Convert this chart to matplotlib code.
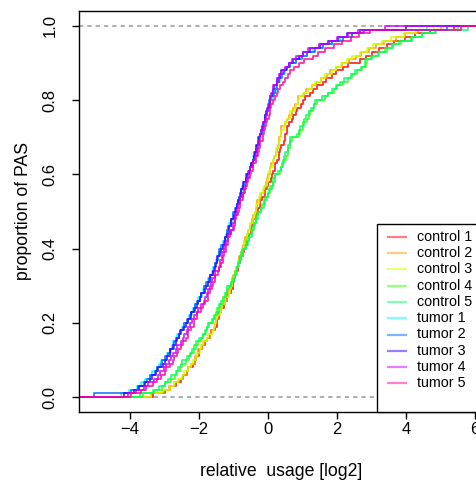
import numpy as np
import matplotlib
matplotlib.use("Agg")
import matplotlib.pyplot as plt
from matplotlib.patches import Rectangle

plt.rcParams["font.family"] = ["Liberation Sans", "DejaVu Sans"]
plt.rcParams["axes.unicode_minus"] = True

# ---- data: relative usage (log2) of PAS per sample ----
labels = ["control 1", "control 2", "control 3", "control 4", "control 5",
          "tumor 1", "tumor 2", "tumor 3", "tumor 4", "tumor 5"]
colors = ["#FF0000", "#FF9900", "#CCFF00", "#33FF00", "#00FF66",
          "#00FFFF", "#0066FF", "#3300FF", "#CC00FF", "#FF0099"]

control_1 = [-3.34, -2.99, -2.84, -2.68, -2.53, -2.46, -2.36, -2.31, -2.17, -2.11,
             -2.09, -2.00, -1.99, -1.91, -1.83, -1.77, -1.68, -1.64, -1.53, -1.49,
             -1.49, -1.42, -1.42, -1.35, -1.28, -1.25, -1.19, -1.17, -1.06, -1.03,
             -1.03, -0.97, -0.98, -0.92, -0.87, -0.86, -0.82, -0.81, -0.72, -0.69,
             -0.67, -0.61, -0.62, -0.55, -0.49, -0.48, -0.44, -0.43, -0.34, -0.31,
             -0.29, -0.23, -0.24, -0.17, -0.10, -0.08, -0.02, -0.01, 0.09, 0.12,
             0.14, 0.20, 0.19, 0.25, 0.31, 0.31, 0.36, 0.37, 0.46, 0.49,
             0.48, 0.54, 0.54, 0.62, 0.70, 0.73, 0.80, 0.84, 0.95, 1.01,
             1.07, 1.22, 1.29, 1.43, 1.58, 1.69, 1.85, 1.97, 2.17, 2.31,
             2.66, 2.85, 3.00, 3.23, 3.45, 3.64, 3.97, 4.25, 4.69, 5.40]
control_2 = [-3.39, -3.03, -2.88, -2.70, -2.58, -2.46, -2.36, -2.33, -2.23, -2.13,
             -2.13, -2.03, -2.02, -1.92, -1.87, -1.76, -1.67, -1.65, -1.58, -1.50,
             -1.54, -1.46, -1.46, -1.37, -1.33, -1.25, -1.19, -1.19, -1.12, -1.05,
             -1.09, -1.02, -1.03, -0.95, -0.93, -0.87, -0.83, -0.84, -0.79, -0.72,
             -0.75, -0.68, -0.69, -0.60, -0.57, -0.51, -0.47, -0.48, -0.43, -0.36,
             -0.39, -0.32, -0.33, -0.24, -0.20, -0.13, -0.07, -0.08, -0.02, 0.05,
             0.01, 0.08, 0.07, 0.15, 0.18, 0.23, 0.28, 0.27, 0.32, 0.39,
             0.32, 0.39, 0.39, 0.49, 0.54, 0.62, 0.69, 0.71, 0.78, 0.88,
             0.87, 1.03, 1.10, 1.26, 1.38, 1.54, 1.70, 1.80, 1.96, 2.14,
             2.34, 2.54, 2.69, 2.94, 3.13, 3.37, 3.70, 3.96, 4.36, 5.00]
control_3 = [-3.38, -3.08, -2.84, -2.73, -2.62, -2.49, -2.44, -2.31, -2.24, -2.18,
             -2.10, -2.06, -1.96, -1.93, -1.89, -1.77, -1.73, -1.61, -1.57, -1.53,
             -1.50, -1.48, -1.39, -1.37, -1.34, -1.25, -1.24, -1.14, -1.10, -1.07,
             -1.04, -1.03, -0.95, -0.94, -0.93, -0.86, -0.87, -0.78, -0.76, -0.73,
             -0.71, -0.70, -0.62, -0.60, -0.58, -0.51, -0.52, -0.43, -0.41, -0.38,
             -0.36, -0.35, -0.27, -0.25, -0.22, -0.14, -0.13, -0.04, -0.01, 0.02,
             0.04, 0.05, 0.13, 0.14, 0.16, 0.22, 0.22, 0.31, 0.33, 0.36,
             0.37, 0.38, 0.47, 0.50, 0.54, 0.63, 0.65, 0.77, 0.81, 0.87,
             0.91, 1.01, 1.17, 1.26, 1.37, 1.54, 1.65, 1.85, 1.98, 2.12,
             2.30, 2.44, 2.68, 2.86, 3.04, 3.29, 3.57, 3.93, 4.30, 4.80]
control_4 = [-3.62, -3.31, -3.08, -2.98, -2.80, -2.69, -2.64, -2.54, -2.48, -2.39,
             -2.30, -2.25, -2.16, -2.14, -2.03, -1.93, -1.89, -1.80, -1.77, -1.70,
             -1.60, -1.57, -1.49, -1.48, -1.38, -1.31, -1.30, -1.23, -1.20, -1.14,
             -1.06, -1.04, -0.97, -0.97, -0.89, -0.84, -0.85, -0.79, -0.78, -0.72,
             -0.65, -0.63, -0.56, -0.55, -0.46, -0.41, -0.42, -0.36, -0.35, -0.29,
             -0.20, -0.18, -0.11, -0.10, 0.00, 0.06, 0.07, 0.13, 0.15, 0.21,
             0.35, 0.37, 0.44, 0.44, 0.53, 0.57, 0.57, 0.63, 0.64, 0.70,
             0.90, 0.92, 1.00, 1.02, 1.13, 1.20, 1.22, 1.31, 1.34, 1.43,
             1.64, 1.75, 1.90, 1.98, 2.16, 2.31, 2.42, 2.59, 2.71, 2.88,
             2.83, 2.98, 3.21, 3.38, 3.63, 3.86, 4.14, 4.47, 4.83, 5.50]
control_5 = [-3.70, -3.34, -3.15, -2.98, -2.89, -2.80, -2.67, -2.61, -2.51, -2.48,
             -2.34, -2.24, -2.19, -2.10, -2.08, -2.00, -1.88, -1.83, -1.76, -1.75,
             -1.63, -1.55, -1.51, -1.43, -1.42, -1.37, -1.28, -1.25, -1.18, -1.18,
             -1.06, -0.99, -0.96, -0.89, -0.90, -0.87, -0.80, -0.78, -0.73, -0.73,
             -0.65, -0.58, -0.55, -0.47, -0.47, -0.44, -0.37, -0.35, -0.30, -0.30,
             -0.20, -0.13, -0.10, -0.02, -0.01, 0.03, 0.12, 0.14, 0.20, 0.20,
             0.30, 0.37, 0.40, 0.47, 0.47, 0.49, 0.57, 0.59, 0.64, 0.64,
             0.83, 0.90, 0.94, 1.03, 1.05, 1.10, 1.20, 1.25, 1.32, 1.35,
             1.57, 1.73, 1.84, 1.99, 2.08, 2.21, 2.40, 2.53, 2.69, 2.80,
             2.81, 3.01, 3.20, 3.44, 3.60, 3.81, 4.17, 4.46, 4.86, 5.80]
tumor_1 = [-4.27, -4.03, -3.79, -3.67, -3.56, -3.43, -3.37, -3.23, -3.16, -3.10,
           -2.96, -2.93, -2.82, -2.79, -2.75, -2.66, -2.64, -2.53, -2.49, -2.44,
           -2.33, -2.30, -2.20, -2.17, -2.13, -2.04, -2.02, -1.92, -1.89, -1.85,
           -1.75, -1.73, -1.64, -1.62, -1.59, -1.52, -1.53, -1.44, -1.43, -1.40,
           -1.31, -1.30, -1.22, -1.21, -1.19, -1.12, -1.12, -1.03, -1.02, -0.99,
           -0.92, -0.91, -0.84, -0.83, -0.82, -0.75, -0.76, -0.67, -0.65, -0.62,
           -0.54, -0.53, -0.45, -0.44, -0.43, -0.36, -0.37, -0.29, -0.28, -0.26,
           -0.18, -0.18, -0.11, -0.11, -0.10, -0.04, -0.05, 0.04, 0.05, 0.07,
           0.13, 0.14, 0.22, 0.23, 0.26, 0.34, 0.36, 0.48, 0.55, 0.65,
           0.81, 0.93, 1.14, 1.29, 1.55, 1.85, 2.08, 2.43, 2.74, 4.60]
tumor_2 = [-5.05, -3.97, -3.78, -3.60, -3.51, -3.42, -3.28, -3.21, -3.11, -3.08,
           -2.98, -2.89, -2.83, -2.74, -2.72, -2.67, -2.57, -2.53, -2.46, -2.44,
           -2.36, -2.27, -2.22, -2.13, -2.11, -2.06, -1.96, -1.93, -1.87, -1.86,
           -1.79, -1.71, -1.67, -1.59, -1.58, -1.55, -1.48, -1.46, -1.42, -1.42,
           -1.36, -1.29, -1.26, -1.19, -1.19, -1.16, -1.08, -1.06, -1.02, -1.02,
           -0.97, -0.90, -0.88, -0.81, -0.82, -0.79, -0.72, -0.70, -0.65, -0.65,
           -0.59, -0.52, -0.49, -0.42, -0.43, -0.40, -0.33, -0.32, -0.28, -0.29,
           -0.24, -0.18, -0.16, -0.10, -0.11, -0.09, -0.02, 0.00, 0.04, 0.03,
           0.09, 0.16, 0.19, 0.26, 0.27, 0.31, 0.41, 0.46, 0.56, 0.63,
           0.80, 0.98, 1.14, 1.35, 1.59, 1.85, 2.16, 2.44, 2.78, 5.20]
tumor_3 = [-4.19, -3.90, -3.75, -3.58, -3.43, -3.36, -3.25, -3.19, -3.05, -2.99,
           -2.93, -2.85, -2.83, -2.75, -2.67, -2.64, -2.57, -2.54, -2.43, -2.38,
           -2.31, -2.23, -2.22, -2.14, -2.06, -2.03, -1.96, -1.94, -1.84, -1.80,
           -1.74, -1.67, -1.67, -1.60, -1.53, -1.52, -1.48, -1.47, -1.39, -1.36,
           -1.31, -1.25, -1.26, -1.20, -1.14, -1.13, -1.08, -1.07, -0.99, -0.96,
           -0.93, -0.87, -0.89, -0.83, -0.78, -0.77, -0.73, -0.72, -0.63, -0.60,
           -0.56, -0.50, -0.51, -0.45, -0.40, -0.39, -0.35, -0.35, -0.27, -0.25,
           -0.22, -0.17, -0.19, -0.14, -0.09, -0.09, -0.05, -0.04, 0.04, 0.06,
           0.07, 0.13, 0.12, 0.18, 0.25, 0.27, 0.34, 0.38, 0.52, 0.62,
           0.72, 0.89, 1.01, 1.21, 1.51, 1.75, 2.03, 2.30, 2.68, 4.00]
tumor_4 = [-4.07, -3.82, -3.59, -3.48, -3.30, -3.19, -3.13, -3.02, -2.96, -2.87,
           -2.80, -2.76, -2.66, -2.64, -2.53, -2.46, -2.44, -2.36, -2.33, -2.25,
           -2.19, -2.15, -2.06, -2.04, -1.93, -1.86, -1.84, -1.77, -1.75, -1.68,
           -1.65, -1.62, -1.54, -1.53, -1.43, -1.38, -1.39, -1.33, -1.33, -1.27,
           -1.25, -1.23, -1.16, -1.16, -1.07, -1.02, -1.02, -0.96, -0.96, -0.90,
           -0.89, -0.87, -0.81, -0.81, -0.73, -0.68, -0.69, -0.63, -0.62, -0.56,
           -0.54, -0.52, -0.45, -0.45, -0.37, -0.32, -0.33, -0.28, -0.28, -0.23,
           -0.22, -0.21, -0.15, -0.16, -0.08, -0.04, -0.05, 0.01, 0.01, 0.06,
           0.06, 0.08, 0.15, 0.15, 0.25, 0.31, 0.33, 0.42, 0.48, 0.61,
           0.69, 0.82, 1.02, 1.16, 1.49, 1.77, 2.00, 2.32, 2.62, 3.40]
tumor_5 = [-3.98, -3.68, -3.53, -3.34, -3.22, -3.10, -2.99, -2.95, -2.85, -2.75,
           -2.73, -2.64, -2.62, -2.52, -2.47, -2.39, -2.32, -2.31, -2.24, -2.15,
           -2.15, -2.06, -2.05, -1.95, -1.90, -1.82, -1.75, -1.75, -1.69, -1.61,
           -1.62, -1.54, -1.54, -1.45, -1.41, -1.35, -1.31, -1.32, -1.28, -1.21,
           -1.23, -1.16, -1.17, -1.09, -1.06, -1.00, -0.95, -0.96, -0.92, -0.85,
           -0.87, -0.80, -0.82, -0.74, -0.72, -0.66, -0.62, -0.63, -0.58, -0.51,
           -0.50, -0.43, -0.44, -0.36, -0.34, -0.28, -0.24, -0.26, -0.22, -0.16,
           -0.16, -0.10, -0.12, -0.05, -0.03, 0.02, 0.06, 0.05, 0.09, 0.15,
           0.20, 0.27, 0.28, 0.36, 0.42, 0.50, 0.58, 0.64, 0.76, 0.90,
           1.05, 1.30, 1.45, 1.65, 1.90, 2.15, 2.40, 2.65, 2.95, 5.60]

samples = [control_1, control_2, control_3, control_4, control_5,
           tumor_1, tumor_2, tumor_3, tumor_4, tumor_5]

x_ticks = [-4, -2, 0, 2, 4, 6]
y_ticks = [0.0, 0.2, 0.4, 0.6, 0.8, 1.0]
y_tick_labels = ["0.0", "0.2", "0.4", "0.6", "0.8", "1.0"]

# ---- figure ----
W, H = 477, 482
fig = plt.figure(figsize=(W / 100, H / 100), dpi=100)
ax_l, ax_r, ax_t, ax_b = 79, 484, 11, 412
ax = fig.add_axes([ax_l / W, (H - ax_b) / H, (ax_r - ax_l) / W, (ax_b - ax_t) / H])
xlim = (-5.48, 6.26)
ylim = (-0.04, 1.04)
ax.set_xlim(*xlim)
ax.set_ylim(*ylim)

# reference lines at 0 and 1
for h in (0.0, 1.0):
    ax.axhline(h, color="#A8A8A8", lw=1.3, ls=(0, (2.4, 2.2)), zorder=1)

# empirical cumulative distribution of each sample
for vals, col in zip(samples, colors):
    xs = np.sort(np.asarray(vals, dtype=float))
    n = len(xs)
    xx = np.concatenate([[xlim[0]], xs, [xlim[1]]])
    yy = np.concatenate([[0.0], np.arange(1, n + 1) / n, [1.0]])
    ax.step(xx, yy, where="post", color=col, alpha=0.85, lw=1.25, zorder=2)

# axes styling
for sp in ax.spines.values():
    sp.set_linewidth(1.0)
    sp.set_color("black")
ax.set_xticks(x_ticks)
ax.set_yticks(y_ticks)
ax.set_yticklabels(y_tick_labels, rotation=90, va="center")
ax.tick_params(axis="both", direction="out", length=5, width=1.0,
               labelsize=12, colors="black")
ax.tick_params(axis="x", pad=2)
ax.tick_params(axis="y", pad=10.5)

ax.set_xlabel("relative  usage [log2]", fontsize=12.7)
ax.xaxis.label.set_verticalalignment("center")
ax.xaxis.set_label_coords(0.5, (ax_b - 471) / (ax_b - ax_t))
ax.set_ylabel("proportion of PAS", fontsize=12.7)
ax.yaxis.label.set_verticalalignment("center")
ax.yaxis.set_label_coords((24 - ax_l) / (ax_r - ax_l), 0.5)

# legend box in the lower right corner
def fx(px):
    return (px - ax_l) / (ax_r - ax_l)

def fy(py):
    return (ax_b - py) / (ax_b - ax_t)

box = Rectangle((fx(377.5), 0.0), 1.0 - fx(377.5), fy(224) - 0.0,
                transform=ax.transAxes, facecolor="white", edgecolor="black",
                lw=1.0, zorder=5, clip_on=False)
ax.add_patch(box)
for k, (lab, col) in enumerate(zip(labels, colors)):
    py = 236.7 + 16.3 * k
    ax.plot([fx(388), fx(405.7)], [fy(py), fy(py)], transform=ax.transAxes,
            color=col, alpha=0.5, lw=1.6, zorder=6, clip_on=False)
    ax.text(fx(416.7), fy(py), lab, transform=ax.transAxes, fontsize=10.3,
            va="center", ha="left", zorder=6)

fig.savefig("out.png", dpi=100, facecolor="white")
